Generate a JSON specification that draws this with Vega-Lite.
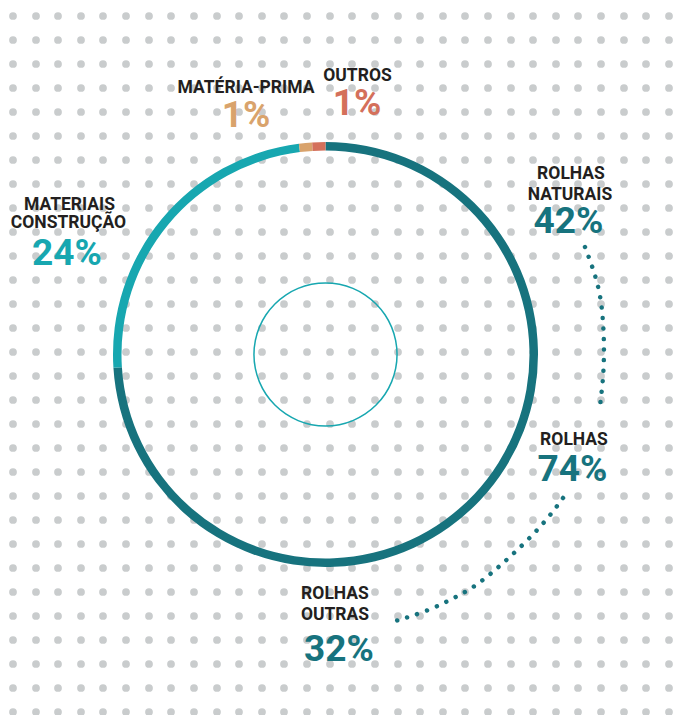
{
  "$schema": "https://vega.github.io/schema/vega-lite/v6.json",
  "width": 651,
  "height": 709,
  "autosize": "none",
  "padding": {"left": 0, "top": 0, "right": 24, "bottom": 6},
  "background": "white",
  "config": {"view": {"stroke": null}},
  "datasets": {
    "grid": [{"xs": [13, 36, 58, 81, 103, 126, 149, 171, 194, 217, 239, 262, 284, 307, 330, 352, 375, 398, 420, 443, 465, 488, 511, 533, 556, 578, 601, 624, 646, 669],
              "ys": [16, 40, 64, 88, 112, 136, 160, 184, 208, 232, 256, 280, 304, 328, 352, 376, 400, 424, 448, 472, 496, 520, 544, 568, 592, 616, 640, 664, 688, 712]}],
    "shares": [
      {"cat": "Rolhas", "value": 74, "ordem": 1},
      {"cat": "Materiais construção", "value": 24, "ordem": 2},
      {"cat": "Matéria-prima", "value": 1, "ordem": 3},
      {"cat": "Outros", "value": 1, "ordem": 4}
    ],
    "inner": [{"value": 100}],
    "connectors": [
      {"seg": "A", "i": 1, "x": 585, "y": 247},
      {"seg": "A", "i": 2, "x": 591, "y": 263},
      {"seg": "A", "i": 3, "x": 597, "y": 281},
      {"seg": "A", "i": 4, "x": 601, "y": 300},
      {"seg": "A", "i": 5, "x": 603, "y": 320},
      {"seg": "A", "i": 6, "x": 604, "y": 340},
      {"seg": "A", "i": 7, "x": 604, "y": 360},
      {"seg": "A", "i": 8, "x": 603, "y": 380},
      {"seg": "A", "i": 9, "x": 601, "y": 397},
      {"seg": "A", "i": 10, "x": 600, "y": 407},
      {"seg": "B", "i": 1, "x": 563, "y": 498},
      {"seg": "B", "i": 2, "x": 549, "y": 517},
      {"seg": "B", "i": 3, "x": 531, "y": 537},
      {"seg": "B", "i": 4, "x": 511, "y": 556},
      {"seg": "B", "i": 5, "x": 493, "y": 572},
      {"seg": "B", "i": 6, "x": 473, "y": 588},
      {"seg": "B", "i": 7, "x": 452, "y": 599},
      {"seg": "B", "i": 8, "x": 432, "y": 609},
      {"seg": "B", "i": 9, "x": 409, "y": 617},
      {"seg": "B", "i": 10, "x": 392, "y": 622}
    ],
    "names": [
      {"text": "MATÉRIA-PRIMA", "x": 246, "y": 93},
      {"text": "OUTROS", "x": 357.5, "y": 81},
      {"text": "MATERIAIS", "x": 69.5, "y": 210},
      {"text": "CONSTRUÇÃO", "x": 68.5, "y": 228},
      {"text": "ROLHAS", "x": 571, "y": 179},
      {"text": "NATURAIS", "x": 570, "y": 200},
      {"text": "ROLHAS", "x": 574, "y": 445},
      {"text": "ROLHAS", "x": 335, "y": 599},
      {"text": "OUTRAS", "x": 335, "y": 620}
    ],
    "pcts": [
      {"text": "1%", "cat": "Matéria-prima", "x": 246, "y": 127},
      {"text": "1%", "cat": "Outros", "x": 357, "y": 115},
      {"text": "24%", "cat": "Materiais construção", "x": 67, "y": 265},
      {"text": "42%", "cat": "Rolhas naturais", "x": 568.5, "y": 233},
      {"text": "74%", "cat": "Rolhas", "x": 572.5, "y": 481},
      {"text": "32%", "cat": "Rolhas outras", "x": 339, "y": 661}
    ]
  },
  "layer": [
    {
      "data": {"name": "grid"},
      "transform": [
        {"flatten": ["xs"], "as": ["px"]},
        {"flatten": ["ys"], "as": ["py"]}
      ],
      "mark": {"type": "point", "shape": "circle", "filled": true, "size": 60, "color": "#c9cccd", "opacity": 1},
      "encoding": {
        "x": {"field": "px", "type": "quantitative", "scale": {"domain": [0, 651], "nice": false, "zero": false}, "axis": null},
        "y": {"field": "py", "type": "quantitative", "scale": {"domain": [0, 709], "nice": false, "zero": false, "reverse": true}, "axis": null}
      }
    },
    {
      "data": {"name": "shares"},
      "mark": {"type": "arc", "radius": 212.5, "radius2": 204},
      "encoding": {
        "theta": {"field": "value", "type": "quantitative", "stack": true},
        "order": {"field": "ordem", "type": "quantitative"},
        "color": {"field": "cat", "type": "nominal", "legend": null,
          "scale": {"domain": ["Rolhas", "Materiais construção", "Matéria-prima", "Outros", "Rolhas naturais", "Rolhas outras"],
                    "range": ["#17737e", "#17a7b0", "#d9a36c", "#d4705b", "#17737e", "#17737e"]}}
      }
    },
    {
      "data": {"name": "inner"},
      "mark": {"type": "arc", "radius": 72.3, "radius2": 70.8, "color": "#17a7b0"},
      "encoding": {
        "theta": {"field": "value", "type": "quantitative", "stack": true}
      }
    },
    {
      "data": {"name": "connectors"},
      "mark": {"type": "line", "interpolate": "basis", "color": "#17737e", "strokeWidth": 4.5, "strokeCap": "round", "strokeDash": [0.01, 10.5]},
      "encoding": {
        "x": {"field": "x", "type": "quantitative", "scale": {"domain": [0, 651], "nice": false, "zero": false}, "axis": null},
        "y": {"field": "y", "type": "quantitative", "scale": {"domain": [0, 709], "nice": false, "zero": false, "reverse": true}, "axis": null},
        "detail": {"field": "seg", "type": "nominal"},
        "order": {"field": "i", "type": "quantitative"}
      }
    },
    {
      "data": {"name": "names"},
      "mark": {"type": "text", "font": "Roboto", "fontWeight": "bold", "fontSize": 17.5, "color": "#231f20", "align": "center", "baseline": "alphabetic"},
      "encoding": {
        "x": {"field": "x", "type": "quantitative", "scale": {"domain": [0, 651], "nice": false, "zero": false}, "axis": null},
        "y": {"field": "y", "type": "quantitative", "scale": {"domain": [0, 709], "nice": false, "zero": false, "reverse": true}, "axis": null},
        "text": {"field": "text", "type": "nominal"}
      }
    },
    {
      "data": {"name": "pcts"},
      "mark": {"type": "text", "font": "Roboto", "fontWeight": "bold", "fontSize": 37, "align": "center", "baseline": "alphabetic"},
      "encoding": {
        "x": {"field": "x", "type": "quantitative", "scale": {"domain": [0, 651], "nice": false, "zero": false}, "axis": null},
        "y": {"field": "y", "type": "quantitative", "scale": {"domain": [0, 709], "nice": false, "zero": false, "reverse": true}, "axis": null},
        "text": {"field": "text", "type": "nominal"},
        "color": {"field": "cat", "type": "nominal", "legend": null,
          "scale": {"domain": ["Rolhas", "Materiais construção", "Matéria-prima", "Outros", "Rolhas naturais", "Rolhas outras"],
                    "range": ["#17737e", "#17a7b0", "#d9a36c", "#d4705b", "#17737e", "#17737e"]}}
      }
    }
  ]
}
